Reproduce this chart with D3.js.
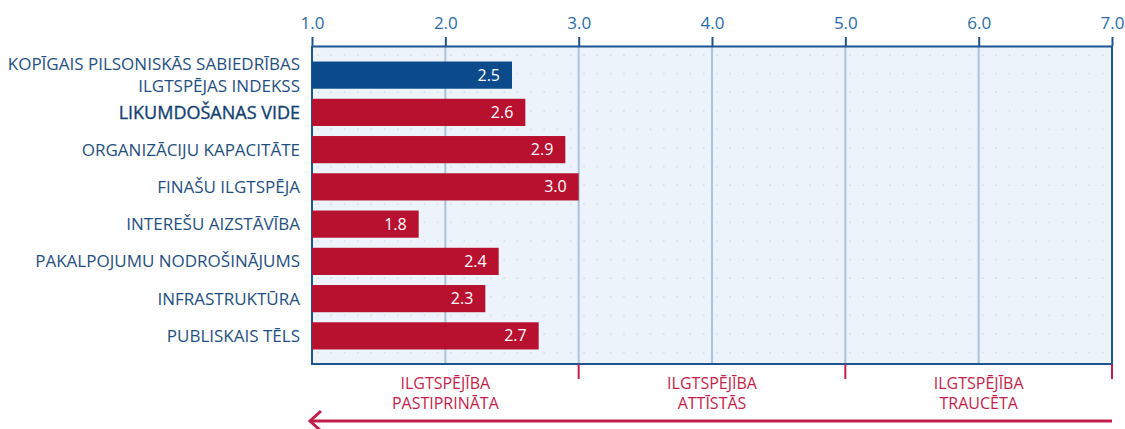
<!DOCTYPE html>
<html>
<head>
<meta charset="utf-8">
<script src="https://cdn.jsdelivr.net/npm/d3@7"></script>
<style>
  body { margin: 0; background: #fff; }
  svg { display: block; font-family: "Open Sans", sans-serif; }
</style>
</head>
<body>
<svg id="chart" width="1125" height="429"></svg>
<script>
const categories = [
  ["KOPĪGAIS PILSONISKĀS SABIEDRĪBAS", "ILGTSPĒJAS INDEKSS"],
  ["LIKUMDOŠANAS VIDE"],
  ["ORGANIZĀCIJU KAPACITĀTE"],
  ["FINAŠU ILGTSPĒJA"],
  ["INTEREŠU AIZSTĀVĪBA"],
  ["PAKALPOJUMU NODROŠINĀJUMS"],
  ["INFRASTRUKTŪRA"],
  ["PUBLISKAIS TĒLS"]
];
const values = [2.5, 2.6, 2.9, 3.0, 1.8, 2.4, 2.3, 2.7];
const ticks = [1, 2, 3, 4, 5, 6, 7];
const zoneBounds = [1, 3, 5, 7];
const zoneLabels = [
  ["ILGTSPĒJĪBA", "PASTIPRINĀTA"],
  ["ILGTSPĒJĪBA", "ATTĪSTĀS"],
  ["ILGTSPĒJĪBA", "TRAUCĒTA"]
];

(function() {
  const svg = d3.select("#chart");
  const top = 46, bottom = 364;
  const x = d3.scaleLinear().domain([1, 7]).range([312, 1112]);
  const y = d3.scaleBand().domain(d3.range(categories.length)).range([56.5, 354.5]).paddingInner(0.27).paddingOuter(0.135);

  const defs = svg.append("defs");
  const pat = defs.append("pattern").attr("id", "dots")
    .attr("patternUnits", "userSpaceOnUse").attr("width", 13.3).attr("height", 18.6)
    .attr("x", 312).attr("y", 46);
  pat.append("rect").attr("width", 13.3).attr("height", 18.6).attr("fill", "#edf3fa");
  pat.append("circle").attr("cx", 6).attr("cy", 9).attr("r", 0.8).attr("fill", "#c3d3e4");

  svg.append("rect").attr("x", x(1)).attr("y", top).attr("width", x(7) - x(1)).attr("height", bottom - top)
    .attr("fill", "url(#dots)");

  // vertical grid
  svg.append("g").selectAll("line").data(ticks.slice(1, -1)).enter().append("line")
    .attr("x1", d => x(d)).attr("x2", d => x(d)).attr("y1", top).attr("y2", bottom)
    .attr("stroke", "#a8c3dc").attr("stroke-width", 2);

  // frame
  svg.append("line").attr("x1", x(1)).attr("x2", x(1)).attr("y1", top).attr("y2", bottom).attr("stroke", "#1d5590").attr("stroke-width", 2);
  svg.append("line").attr("x1", x(7)).attr("x2", x(7)).attr("y1", top).attr("y2", bottom).attr("stroke", "#1d5590").attr("stroke-width", 2);
  svg.append("line").attr("x1", x(1) - 1).attr("x2", x(7) + 1).attr("y1", bottom).attr("y2", bottom).attr("stroke", "#1d5590").attr("stroke-width", 2);

  // top axis
  const axis = svg.append("g").attr("transform", `translate(0,${top})`)
    .call(d3.axisTop(x).tickValues(ticks).tickFormat(d3.format(".1f")).tickSize(9).tickSizeOuter(0));
  axis.select(".domain").attr("stroke", "#1d5590").attr("stroke-width", 2);
  axis.selectAll(".tick line").attr("stroke", "#1d5590").attr("stroke-width", 2);
  axis.selectAll(".tick text").attr("fill", "#2a6ba5").attr("font-size", 17)
    .attr("font-family", "'Open Sans', sans-serif").attr("y", -17);

  // bars
  svg.append("g").selectAll("rect").data(values).enter().append("rect")
    .attr("x", x(1)).attr("y", (d, i) => y(i)).attr("width", d => x(d) - x(1)).attr("height", y.bandwidth())
    .attr("fill", (d, i) => i === 0 ? "#0b4a8b" : "#b8102f");

  svg.append("g").selectAll("text").data(values).enter().append("text")
    .attr("x", d => x(d) - 12).attr("y", (d, i) => y(i) + y.bandwidth() / 2).attr("dy", "0.35em")
    .attr("text-anchor", "end").attr("fill", "#fff").attr("font-size", 16)
    .text(d => d.toFixed(1));

  // category labels
  const lab = svg.append("g").selectAll("text").data(categories).enter().append("text")
    .attr("text-anchor", "end").attr("fill", (d, i) => i === 1 ? "#123f70" : "#1f4f80")
    .attr("font-size", (d, i) => i === 1 ? 18 : 17)
    .attr("stroke", (d, i) => i === 1 ? "#123f70" : "none").attr("stroke-width", 0.35)
    .attr("y", (d, i) => y(i) + y.bandwidth() / 2);
  lab.selectAll("tspan").data(d => d.map((t, j) => ({ t, j, n: d.length }))).enter().append("tspan")
    .attr("x", 300)
    .attr("dy", p => p.j === 0 ? (p.n === 1 ? "0.35em" : "-0.3em") : "1.3em")
    .text(p => p.t);

  // zone ticks and labels
  const red = "#c21e4c";
  svg.append("g").selectAll("line").data(zoneBounds.slice(1)).enter().append("line")
    .attr("x1", d => x(d)).attr("x2", d => x(d)).attr("y1", bottom).attr("y2", bottom + 15)
    .attr("stroke", red).attr("stroke-width", 2);
  const zl = svg.append("g").selectAll("text").data(zoneLabels).enter().append("text")
    .attr("text-anchor", "middle").attr("fill", red).attr("font-size", 16)
    .attr("transform", (d, i) => `translate(${(x(zoneBounds[i]) + x(zoneBounds[i + 1])) / 2},389)`);
  zl.selectAll("tspan").data(d => d).enter().append("tspan")
    .attr("x", 0).attr("dy", (t, j) => j === 0 ? 0 : "1.25em").text(t => t);

  // arrow
  const ay = 421;
  svg.append("line").attr("x1", x(1) - 2).attr("x2", x(7)).attr("y1", ay).attr("y2", ay)
    .attr("stroke", red).attr("stroke-width", 3);
  svg.append("path").attr("d", `M${x(1) + 9},${ay - 10} L${x(1) - 2},${ay} L${x(1) + 9},${ay + 10}`)
    .attr("fill", "none").attr("stroke", red).attr("stroke-width", 3);
})();
</script>
</body>
</html>
